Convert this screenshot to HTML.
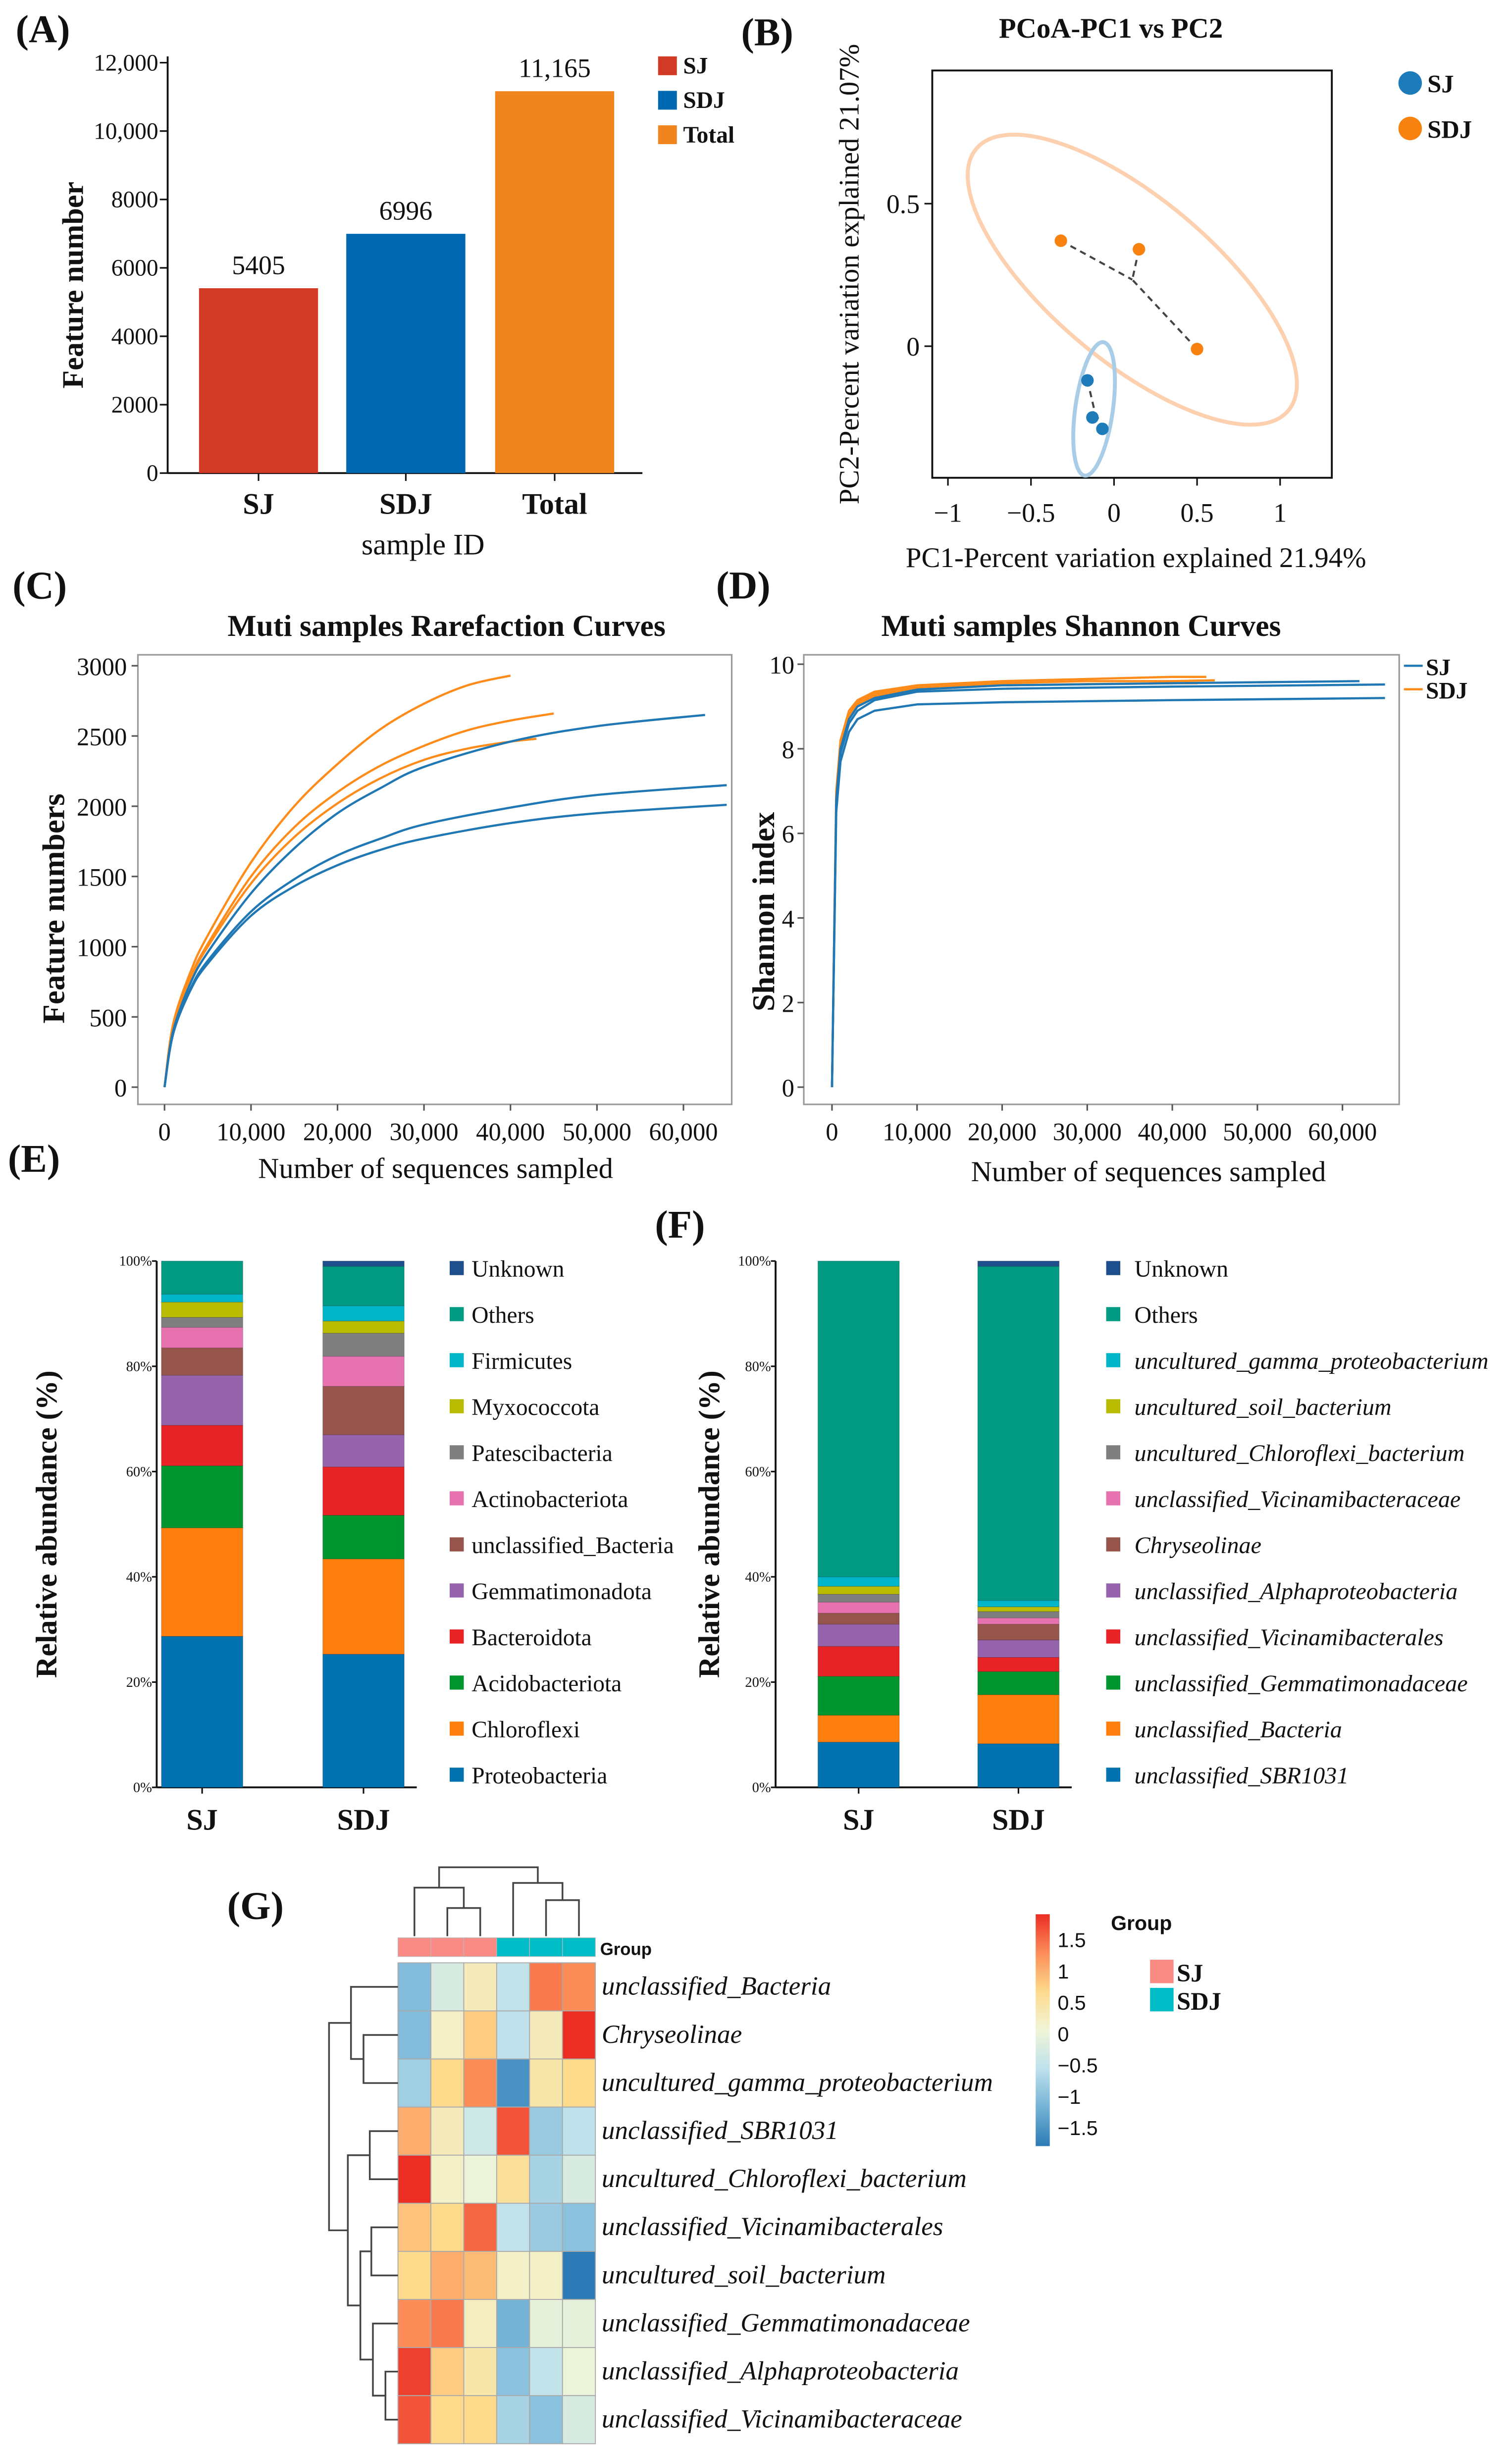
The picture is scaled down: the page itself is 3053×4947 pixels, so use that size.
<!DOCTYPE html>
<html><head><meta charset="utf-8"><style>
html,body{margin:0;padding:0;background:#fff}
svg{display:block}
text{font-family:"Liberation Serif",serif;fill:#111}
.b{font-weight:bold}
.s{font-family:"Liberation Sans",sans-serif}
</style></head><body>
<svg id="fig" xmlns="http://www.w3.org/2000/svg" width="3053" height="4947" viewBox="0 0 965 1564" preserveAspectRatio="none">
<rect x="0" y="0" width="965" height="1564" fill="#fff"/>
<defs><clipPath id="eclip"><rect x="0" y="760" width="433" height="420"/></clipPath></defs>
</svg>
<script>
// ---------- DATA ----------
const aCats=["SJ","SDJ","Total"];
const aVals=[5405,6996,11165];
const aLabels=["5405","6996","11,165"];
const aTicks=[0,2000,4000,6000,8000,10000,12000];
const aTickLabels=["0","2000","4000","6000","8000","10,000","12,000"];

const pcoaSJx=[-0.16,-0.13,-0.07];
const pcoaSJy=[-0.12,-0.25,-0.29];
const pcoaSDJx=[-0.32,0.15,0.50];
const pcoaSDJy=[0.37,0.34,-0.01];

const rareX=[[0,1000,3000,5000,10000,15000,20000,25000,30000,35000,40000],
 [0,1000,3000,5000,10000,15000,20000,25000,30000,35000,40000,45000],
 [0,1000,3000,5000,10000,15000,20000,25000,30000,35000,40000,43000],
 [0,1000,3000,5000,10000,15000,20000,25000,30000,40000,50000,62500],
 [0,1000,3000,5000,10000,15000,20000,25000,30000,40000,50000,65000],
 [0,1000,3000,5000,10000,15000,20000,25000,30000,40000,50000,65000]];
const rareY=[[0,450,820,1080,1600,2000,2300,2550,2730,2860,2930],
 [0,420,780,1020,1500,1850,2100,2290,2430,2540,2610,2660],
 [0,420,770,1000,1450,1780,2020,2200,2330,2410,2460,2480],
 [0,400,740,960,1380,1700,1950,2130,2280,2460,2570,2650],
 [0,380,700,900,1250,1480,1650,1770,1870,1990,2080,2150],
 [0,380,690,880,1220,1430,1580,1690,1770,1880,1950,2010]];
const rareGroup=["SDJ","SDJ","SDJ","SJ","SJ","SJ"];

const shanX=[[0,500,1000,2000,3000,5000,10000,20000,30000,40000,44000],
 [0,500,1000,2000,3000,5000,10000,20000,30000,40000,45000],
 [0,500,1000,2000,3000,5000,10000,20000,30000,40000,43000],
 [0,500,1000,2000,3000,5000,10000,20000,40000,62000],
 [0,500,1000,2000,3000,5000,10000,20000,40000,65000],
 [0,500,1000,2000,3000,5000,10000,20000,40000,65000]];
const shanY=[[0,7.0,8.2,8.9,9.15,9.35,9.5,9.6,9.65,9.7,9.7],
 [0,6.8,8.0,8.8,9.1,9.3,9.45,9.55,9.6,9.6,9.62],
 [0,6.9,8.1,8.8,9.05,9.25,9.4,9.5,9.53,9.55,9.55],
 [0,6.8,8.0,8.7,9.0,9.2,9.4,9.5,9.55,9.6],
 [0,6.7,7.9,8.6,8.9,9.15,9.35,9.42,9.47,9.52],
 [0,6.5,7.7,8.4,8.7,8.9,9.05,9.1,9.15,9.2]];
const shanGroup=["SDJ","SDJ","SDJ","SJ","SJ","SJ"];

const eTaxa=["Proteobacteria","Chloroflexi","Acidobacteriota","Bacteroidota","Gemmatimonadota","unclassified_Bacteria","Actinobacteriota","Patescibacteria","Myxococcota","Firmicutes","Others","Unknown"];
const eSJ=[28.7,20.6,11.8,7.7,9.5,5.2,3.9,1.9,2.9,1.5,6.3,0];
const eSDJ=[25.3,18.1,8.3,9.2,6.1,9.2,5.7,4.4,2.3,2.9,7.5,1.0];
const fTaxa=["unclassified_SBR1031","unclassified_Bacteria","unclassified_Gemmatimonadaceae","unclassified_Vicinamibacterales","unclassified_Alphaproteobacteria","Chryseolinae","unclassified_Vicinamibacteraceae","uncultured_Chloroflexi_bacterium","uncultured_soil_bacterium","uncultured_gamma_proteobacterium","Others","Unknown"];
const fSJ=[8.6,5.1,7.4,5.7,4.2,2.1,2.1,1.5,1.5,1.8,60.0,0];
const fSDJ=[8.3,9.3,4.4,2.7,3.3,3.0,1.2,1.2,0.9,1.2,63.5,1.0];
const stackColors=["#0072b0","#ff7f0e","#00962f","#e72325","#9664ad","#96554a","#e673b0","#7f7f7f","#b8bb00","#00b5c8","#009a82","#1f4e8c"];

const hRows=["unclassified_Bacteria","Chryseolinae","uncultured_gamma_proteobacterium","unclassified_SBR1031","uncultured_Chloroflexi_bacterium","unclassified_Vicinamibacterales","uncultured_soil_bacterium","unclassified_Gemmatimonadaceae","unclassified_Alphaproteobacteria","unclassified_Vicinamibacteraceae"];
const hGroups=["SJ","SJ","SJ","SDJ","SDJ","SDJ"];
const hVals=[[-0.9,-0.25,0.2,-0.45,1.1,1.0],
 [-0.9,0.1,0.6,-0.5,0.2,1.5],
 [-0.7,0.5,1.0,-1.3,0.3,0.5],
 [0.8,0.2,-0.35,1.3,-0.75,-0.5],
 [1.6,0.1,-0.05,0.4,-0.65,-0.25],
 [0.65,0.5,1.2,-0.45,-0.75,-0.85],
 [0.5,0.8,0.7,0.1,0.1,-1.6],
 [1.0,1.1,0.15,-1.0,-0.1,-0.1],
 [1.4,0.6,0.3,-0.85,-0.45,-0.05],
 [1.3,0.5,0.5,-0.65,-0.85,-0.25]];
const cbTicks=[1.5,1,0.5,0,-0.5,-1,-1.5];
const cbLabels=["1.5","1","0.5","0","\u22120.5","\u22121","\u22121.5"];

// ---------- HELPERS ----------
const NS="http://www.w3.org/2000/svg";
const svg=document.getElementById("fig");
function mk(tag,attrs,parent){const e=document.createElementNS(NS,tag);for(const k in attrs)e.setAttribute(k,attrs[k]);(parent||svg).appendChild(e);return e;}
function tx(x,y,s,attrs,parent){const e=mk("text",Object.assign({x:x,y:y},attrs||{}),parent);e.textContent=s;return e;}
function grp(name){const g=mk("g",{});
return g;}
function pathFrom(xs,ys,fx,fy){return xs.map((v,i)=>(i?"L":"M")+fx(v).toFixed(2)+","+fy(ys[i]).toFixed(2)).join(" ");}
function smoothPath(xs,ys,fx,fy){const P=xs.map((v,i)=>[fx(v),fy(ys[i])]);let d="M"+P[0][0]+","+P[0][1];
for(let i=0;i<P.length-1;i++){const p0=P[i-1]||P[i],p1=P[i],p2=P[i+1],p3=P[i+2]||p2;
const c1=[p1[0]+(p2[0]-p0[0])/6,p1[1]+(p2[1]-p0[1])/6],c2=[p2[0]-(p3[0]-p1[0])/6,p2[1]-(p3[1]-p1[1])/6];
d+=" C"+c1[0].toFixed(2)+","+c1[1].toFixed(2)+" "+c2[0].toFixed(2)+","+c2[1].toFixed(2)+" "+p2[0].toFixed(2)+","+p2[1].toFixed(2);}return d;}
const BLUE="#1f77b4",ORANGE="#ff8c1a";

// ---------- PANEL A ----------
(function(){const g=grp("panel-a-bar-chart");
tx(10,27,"(A)",{"font-size":25,"class":"b"},g);
const y0=302,yTop=40,fy=v=>y0-(v/12000)*(y0-yTop);
const ax=mk("line",{x1:107,y1:36,x2:107,y2:y0,stroke:"#111","stroke-width":1.2},g);


mk("line",{x1:107,y1:y0,x2:410,y2:y0,stroke:"#111","stroke-width":1.2},g);
aTicks.forEach((t,i)=>{mk("line",{x1:102,y1:fy(t),x2:107,y2:fy(t),stroke:"#111"},g);
const l=tx(101,fy(t)+5,aTickLabels[i],{"font-size":15,"text-anchor":"end"},g);

});
const cols=["#d13b26","#0068b1","#f0841f"];const bx=[127,221,316];const bw=76;
aCats.forEach((c,i)=>{const r=mk("rect",{x:bx[i],y:fy(aVals[i]),width:bw,height:y0-fy(aVals[i]),fill:cols[i]},g);


tx(bx[i]+bw/2,fy(aVals[i])-9,aLabels[i],{"font-size":17,"text-anchor":"middle"},g);
mk("line",{x1:bx[i]+bw/2,y1:y0,x2:bx[i]+bw/2,y2:y0+5,stroke:"#111"},g);
const xl=tx(bx[i]+bw/2,328,c,{"font-size":19,"text-anchor":"middle","class":"b"},g);

});
const xt=tx(270,354,"sample ID",{"font-size":19,"text-anchor":"middle"},g);


const yt=tx(0,0,"Feature number",{"font-size":19,"class":"b","text-anchor":"middle",transform:"translate(53,182) rotate(-90)"},g);


aCats.forEach((c,i)=>{const le=mk("rect",{x:420,y:36+i*22,width:12,height:12,fill:cols[i]},g);


tx(436,47+i*22,c,{"font-size":15,"class":"b"},g);});
})();

// ---------- PANEL B ----------
(function(){const g=grp("panel-b-pcoa");
tx(473,29,"(B)",{"font-size":25,"class":"b"},g);
tx(709,24,"PCoA-PC1 vs PC2",{"font-size":18,"class":"b","text-anchor":"middle"},g);
const fx=v=>711+v*106,fy=v=>221-v*182;
mk("rect",{x:595,y:45,width:255,height:260,fill:"none",stroke:"#111","stroke-width":1.2},g);
[-1,-0.5,0,0.5,1].forEach((t,i)=>{mk("line",{x1:fx(t),y1:305,x2:fx(t),y2:310,stroke:"#111"},g);
tx(fx(t),333,["\u22121","\u22120.5","0","0.5","1"][i],{"font-size":17,"text-anchor":"middle"},g);});
[0,0.5].forEach((t,i)=>{mk("line",{x1:590,y1:fy(t),x2:595,y2:fy(t),stroke:"#111"},g);
tx(587,fy(t)+6,["0","0.5"][i],{"font-size":17,"text-anchor":"end"},g);});
const xt=tx(725,362,"PC1-Percent variation explained 21.94%",{"font-size":18,"text-anchor":"middle"},g);


const yt=tx(0,0,"PC2-Percent variation explained 21.07%",{"font-size":18,"text-anchor":"middle",transform:"translate(548,175) rotate(-90)"},g);


function grpDraw(xs,ys,col,ecol,rx,ry,ang,name){
 const cx=xs.reduce((a,b)=>a+b)/xs.length,cy=ys.reduce((a,b)=>a+b)/ys.length;
 const e=mk("ellipse",{cx:fx(cx),cy:fy(cy),rx:rx,ry:ry,fill:"none",stroke:ecol,"stroke-width":2.5,transform:`rotate(${ang} ${fx(cx)} ${fy(cy)})`},g);
 
 
 xs.forEach((x,i)=>{mk("line",{x1:fx(x),y1:fy(ys[i]),x2:fx(cx),y2:fy(cy),stroke:"#444","stroke-width":1.3,"stroke-dasharray":"4,3"},g);});
 xs.forEach((x,i)=>{const c=mk("circle",{cx:fx(x),cy:fy(ys[i]),r:4,fill:col},g);
 
 });}
grpDraw(pcoaSDJx,pcoaSDJy,"#f7820f","#fdd0b0",130,52,40,"sdj");
grpDraw(pcoaSJx,pcoaSJy,"#1c7bb8","#a9cde6",43,12,-82,"sj");
[["SJ","#1c7bb8"],["SDJ","#f7820f"]].forEach((d,i)=>{const c=mk("circle",{cx:900,cy:53+i*29,r:7.5,fill:d[1]},g);


tx(911,59+i*29,d[0],{"font-size":16,"class":"b"},g);});
})();

// ---------- PANEL C ----------
(function(){const g=grp("panel-c-rarefaction");
tx(8,382,"(C)",{"font-size":25,"class":"b"},g);
tx(285,406,"Muti samples Rarefaction Curves",{"font-size":19.5,"class":"b","text-anchor":"middle"},g);
const fx=v=>105+v/10000*55.2,fy=v=>694-v*269/3000;
mk("rect",{x:88,y:418,width:379,height:287,fill:"none",stroke:"#999","stroke-width":1},g);
[0,500,1000,1500,2000,2500,3000].forEach(t=>{mk("line",{x1:84,y1:fy(t),x2:88,y2:fy(t),stroke:"#555"},g);
tx(81,fy(t)+6,String(t),{"font-size":16,"text-anchor":"end"},g);});
[0,10000,20000,30000,40000,50000,60000].forEach(t=>{mk("line",{x1:fx(t),y1:705,x2:fx(t),y2:709,stroke:"#555"},g);
tx(fx(t),728,t?t.toLocaleString("en-US"):"0",{"font-size":16,"text-anchor":"middle"},g);});
const xt=tx(278,752,"Number of sequences sampled",{"font-size":18.5,"text-anchor":"middle"},g);


const yt=tx(0,0,"Feature numbers",{"font-size":20,"class":"b","text-anchor":"middle",transform:"translate(41,580) rotate(-90)"},g);


rareX.forEach((xs,i)=>{const p=mk("path",{d:smoothPath(xs,rareY[i],fx,fy),fill:"none",stroke:rareGroup[i]=="SJ"?BLUE:ORANGE,"stroke-width":1.4},g);

});
})();

// ---------- PANEL D ----------
(function(){const g=grp("panel-d-shannon");
tx(457,382,"(D)",{"font-size":25,"class":"b"},g);
tx(690,406,"Muti samples Shannon Curves",{"font-size":19.5,"class":"b","text-anchor":"middle"},g);
const fx=v=>531+v/10000*54.3,fy=v=>694-v*27;
mk("rect",{x:513,y:418,width:380,height:287,fill:"none",stroke:"#999","stroke-width":1},g);
[0,2,4,6,8,10].forEach(t=>{mk("line",{x1:509,y1:fy(t),x2:513,y2:fy(t),stroke:"#555"},g);
tx(507,fy(t)+6,String(t),{"font-size":16,"text-anchor":"end"},g);});
[0,10000,20000,30000,40000,50000,60000].forEach(t=>{mk("line",{x1:fx(t),y1:705,x2:fx(t),y2:709,stroke:"#555"},g);
tx(fx(t),728,t?t.toLocaleString("en-US"):"0",{"font-size":16,"text-anchor":"middle"},g);});
const xt=tx(733,754,"Number of sequences sampled",{"font-size":18.5,"text-anchor":"middle"},g);


const yt=tx(0,0,"Shannon index",{"font-size":20,"class":"b","text-anchor":"middle",transform:"translate(494,582) rotate(-90)"},g);


shanX.forEach((xs,i)=>{const p=mk("path",{d:pathFrom(xs,shanY[i],fx,fy),fill:"none",stroke:shanGroup[i]=="SJ"?BLUE:ORANGE,"stroke-width":1.4,"stroke-linejoin":"round"},g);

});
[["SJ",BLUE],["SDJ",ORANGE]].forEach((d,i)=>{const l=mk("line",{x1:896,y1:425+i*15,x2:908,y2:425+i*15,stroke:d[1],"stroke-width":1.4},g);


tx(910,431+i*15,d[0],{"font-size":15,"class":"b"},g);});
})();

// ---------- PANELS E & F ----------
function stacked(name,lab,labX,labY,axX,bars,vals,taxa,legX,legTxX,italic,ytX,legFs){
 const g=grp(name);
 tx(labX,labY,lab,{"font-size":25,"class":"b"},g);
 const y0=1141,y1=805,fy=v=>y0-v/100*(y0-y1);
 mk("line",{x1:axX,y1:y1,x2:axX,y2:y0,stroke:"#111","stroke-width":1.2},g);
 mk("line",{x1:axX,y1:y0,x2:bars[1]+60,y2:y0,stroke:"#111","stroke-width":1.2},g);
 [0,20,40,60,80,100].forEach(t=>{mk("line",{x1:axX-3,y1:fy(t),x2:axX,y2:fy(t),stroke:"#111"},g);
 tx(axX-3,fy(t)+3,t+"%",{"font-size":9,"text-anchor":"end"},g);});
 ["SJ","SDJ"].forEach((c,bi)=>{let acc=0;
 vals[bi].forEach((v,k)=>{if(v<=0)return;const r=mk("rect",{x:bars[bi],y:fy(acc+v),width:52,height:fy(acc)-fy(acc+v),fill:stackColors[k],stroke:"rgba(0,0,0,0.25)","stroke-width":0.3},g);
 
 acc+=v;});
 mk("line",{x1:bars[bi]+26,y1:y0,x2:bars[bi]+26,y2:y0+4,stroke:"#111"},g);
 tx(bars[bi]+26,1168,c,{"font-size":19,"class":"b","text-anchor":"middle"},g);});
 const yt=tx(0,0,"Relative abundance (%)",{"font-size":19,"class":"b","text-anchor":"middle",transform:`translate(${ytX},973) rotate(-90)`},g);
 
 
 for(let k=taxa.length-1;k>=0;k--){const row=taxa.length-1-k;const yy=810+row*29.4;
 const le=mk("rect",{x:legX,y:yy-5,width:9,height:9,fill:stackColors[k]},g);
 
 
 const it=italic&&k<10;
 const t=tx(legTxX,yy+5,taxa[k],{"font-size":legFs,"font-style":it?"italic":"normal"},g);
 if(name=="panel-e-phylum")t.setAttribute("clip-path","url(#eclip)");}
}
stacked("panel-e-phylum","(E)",5,748,100,[103,206],[eSJ,eSDJ],eTaxa,287,301,false,36,15);
stacked("panel-f-genus","(F)",418,790,495,[522,624],[fSJ,fSDJ],fTaxa,706,724,true,459,15.2);

// ---------- PANEL G ----------
(function(){const g=grp("panel-g-heatmap");
tx(145,1225,"(G)",{"font-size":25,"class":"b"},g);
const cx0=254,cw=21,ry0=1253,rh=30.7;
const stops=[[-1.5,[44,123,182]],[-1,[116,179,214]],[-0.5,[190,225,236]],[0,[240,245,215]],[0.5,[253,218,140]],[1,[252,141,89]],[1.5,[235,45,35]]];
function col(v){v=Math.max(-1.5,Math.min(1.5,v));for(let i=0;i<stops.length-1;i++){const a=stops[i],b=stops[i+1];if(v<=b[0]){const t=(v-a[0])/(b[0]-a[0]);return "rgb("+a[1].map((c,j)=>Math.round(c+(b[1][j]-c)*t)).join(",")+")";}}return "rgb(235,45,35)";}
hGroups.forEach((gname,j)=>{const r=mk("rect",{x:cx0+j*cw,y:1237,width:cw,height:12,fill:gname=="SJ"?"#fa8a84":"#00bcc6",stroke:"#bbb","stroke-width":0.4},g);

});
tx(383,1248,"Group",{"font-size":11,"class":"b s"},g);
hVals.forEach((row,i)=>{row.forEach((v,j)=>{const r=mk("rect",{x:cx0+j*cw,y:ry0+i*rh,width:cw,height:rh,fill:col(v),stroke:"#aaa","stroke-width":0.6},g);

});
const l=tx(384,ry0+i*rh+rh/2+5,hRows[i],{"font-size":16.8,"font-style":"italic"},g);

});
const st={fill:"none",stroke:"#444","stroke-width":1.1};
const cc=j=>cx0+j*cw+cw/2;
mk("path",Object.assign({d:`M${cc(1)},1236V1218H${cc(2)}V1236 M${cc(0)},1236V1205H${(cc(1)+cc(2))/2}V1218 M${cc(4)},1236V1213H${cc(5)}V1213V1236 M${cc(3)},1236V1202H${(cc(4)+cc(5))/2}V1213 M${(cc(0)+(cc(1)+cc(2))/2)/2},1205V1192H${(cc(3)+(cc(4)+cc(5))/2)/2}V1202`},st),g);
const rc=i=>ry0+i*rh+rh/2;
const m=(a,b)=>(a+b)/2;
const r23=m(rc(1),rc(2)),r123=m(rc(0),r23),r45=m(rc(3),rc(4)),r67=m(rc(5),rc(6)),r910=m(rc(8),rc(9)),r8910=m(rc(7),r910),r6_10=m(r67,r8910),r4_10=m(r45,r6_10);
mk("path",Object.assign({d:
`M254,${rc(1)}H232V${rc(2)}H254 M254,${rc(0)}H224V${r23}H232 `+
`M254,${rc(3)}H236V${rc(4)}H254 M254,${rc(5)}H237V${rc(6)}H254 M254,${rc(8)}H246V${rc(9)}H254 M254,${rc(7)}H238V${r910}H246 `+
`M237,${r67}H230V${r8910}H238 M236,${r45}H222V${r6_10}H230 M224,${r123}H210V${r4_10}H222`},st),g);
const cb0=1222,cb1=1370;const defs=mk("defs",{});const lg=mk("linearGradient",{id:"cbg",x1:0,y1:0,x2:0,y2:1},defs);
cbTicks.forEach((t,i)=>{mk("stop",{offset:(i/(cbTicks.length-1)),"stop-color":col(t)},lg);});
const cb=mk("rect",{x:661,y:cb0,width:9,height:cb1-cb0,fill:"url(#cbg)"},g);


const fcb=v=>1238+(1.5-v)/3*120;
cbTicks.forEach((t,i)=>{tx(675,fcb(t)+5,cbLabels[i],{"font-size":13,"class":"s"},g);});
tx(709,1232,"Group",{"font-size":13,"class":"b s"},g);
[["SJ","#fa8a84"],["SDJ","#00bcc6"]].forEach((d,i)=>{const r=mk("rect",{x:734,y:1251+i*18,width:15,height:15,fill:d[1]},g);


tx(751,1265+i*18,d[0],{"font-size":16,"class":"b"},g);});
})();
</script>
</body></html>
